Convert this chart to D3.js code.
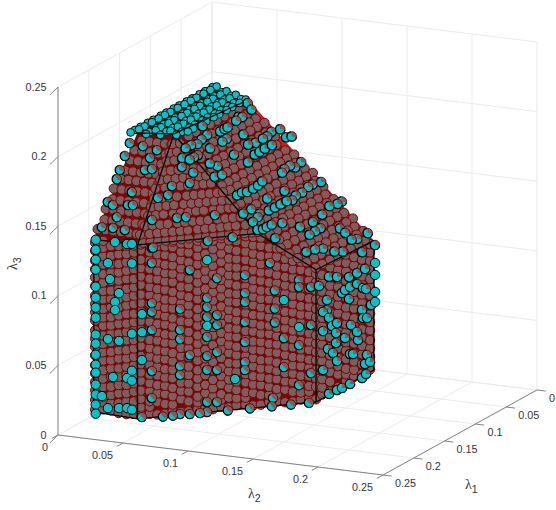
<!DOCTYPE html>
<html>
<head>
<meta charset="utf-8">
<style>
  body { margin: 0; background: #fff; }
  text { font-family: "Liberation Sans", Arial, sans-serif; font-size: 10.8px; fill: #333; }
  .sym { font-family: "Liberation Serif", serif; font-size: 14px; }
  .sub { font-family: "Liberation Sans", Arial, sans-serif; font-size: 10.5px; }
</style>
<script src="https://cdnjs.cloudflare.com/ajax/libs/d3/7.8.5/d3.min.js"></script>
</head>
<body>
<div id="scatter"></div>
<script>
var tickValues = [0, 0.05, 0.1, 0.15, 0.2, 0.25];
var tickLabels = ["0", "0.05", "0.1", "0.15", "0.2", "0.25"];

// polytope corners [lambda1, lambda2, lambda3]
var V1 = [.234, .020, .015], V2 = [.238, .0555, .015], V3 = [.1445, .1485, .015], V4 = [.0505, .1485, .015];
var A1 = [.234, .020, .139], A2 = [.238, .0555, .140], A3 = [.175, .118, .140];
var B3 = [.1445, .1485, .110], B4 = [.0505, .1485, .108];
var T1 = [.1865, .031, .205], T2 = [.178, .055, .205], T3 = [.074, .063, .205], T4 = [.0517, .0237, .205];

var outerHull = [V1, V2, V3, V4, B4, T3, T4, T1, A1];
var innerHull = [V1, V2, V3, [.055, .1485, .016], [.056, .1465, .108], [.080, .066, .2], T4, T1, A1];
var blackEdges = [[V1, V2], [V2, V3], [V3, V4], [V1, A1], [V2, A2], [V3, B3], [V4, B4], [A1, A2], [A2, A3], [A3, B3],
  [B3, B4], [A2, T2], [A3, T2], [T1, T2], [T2, T3]];

// interior points, seen through the red surface
var levelsA = [.017,.024,.031,.037,.043,.049,.056,.062,.068,.074,.081,.087,.093,.099,.106,.112,.118,.124,.131,.137];
var levelsB = [.018,.023,.027,.034,.040,.046,.053,.059,.065,.071,.078,.084,.090,.097,.103,.109,.115,.122,.128,.134,.139];
var levelsC = [.017,.026,.032,.038,.045,.051,.057,.063,.070,.076,.082,.089,.095,.101,.107,.114,.120,.126,.132,.138];
var levelsD = [.018,.023,.029,.035,.042,.048,.054,.060,.067,.073,.079,.085,.092,.098,.104,.111,.117,.123,.129,.136,.140];

// [lambda1, lambda2, levels, top]
var wallColumns = [
  [.235,.0215,levelsA,.139],[.2352,.0277,levelsB,.139],[.2355,.0338,levelsD,.139],[.236,.040,levelsA,.139],[.2365,.0462,levelsC,.139],[.2372,.0523,levelsB,.139],
  [.236,.057,levelsD,.140],[.232,.062,levelsB,.140],[.228,.066,levelsC,.140],[.224,.070,levelsA,.140],[.220,.074,levelsD,.140],[.215,.078,levelsC,.140],
  [.211,.082,levelsA,.140],[.207,.087,levelsB,.140],[.203,.091,levelsD,.140],[.199,.095,levelsC,.140],[.194,.099,levelsB,.140],[.190,.103,levelsA,.140],
  [.186,.107,levelsD,.140],[.182,.112,levelsB,.140],[.178,.116,levelsC,.140],[.174,.120,levelsA,.138],[.169,.124,levelsD,.134],[.165,.128,levelsB,.130],
  [.161,.1325,levelsC,.126],[.157,.1366,levelsA,.122],[.153,.1408,levelsD,.118],[.1485,.145,levelsB,.113],
  [.1445,.1485,levelsC,.110],[.1347,.1485,levelsD,.110],[.1218,.1485,levelsA,.110],[.1088,.1485,levelsC,.109],[.0958,.1485,levelsB,.109],[.0828,.1485,levelsD,.109],[.0698,.1485,levelsA,.108],[.0568,.1485,levelsC,.108]
];

// [lambda1, lambda3, lambda2 list]
var slopeLeftRows = [
  [.232,.146,[.022,.028,.034,.040,.046,.052,.057]],
  [.227,.152,[.025,.031,.037,.043,.049,.054]],
  [.221,.158,[.023,.029,.035,.041,.047,.053,.057]],
  [.216,.164,[.026,.032,.038,.044,.050,.056]],
  [.210,.170,[.024,.030,.036,.042,.048,.054]],
  [.205,.176,[.027,.033,.039,.045,.051,.056]],
  [.200,.181,[.028,.034,.040,.046,.052,.057]],
  [.194,.187,[.029,.035,.041,.047,.053]],
  [.189,.193,[.030,.036,.042,.048,.054]],
  [.184,.199,[.033,.039,.045,.051,.056]]
];

// [lambda3, lambda1 + lambda2, lambda2 list]
var slopeMidRows = [
  [.141,.2926,[.058,.062,.066,.070,.074,.078,.082,.087,.091,.095,.099,.103,.107,.111,.115,.118]],
  [.146,.2879,[.055,.060,.064,.068,.072,.076,.080,.085,.089,.093,.097,.101,.105,.110]],
  [.151,.2833,[.056,.060,.064,.068,.073,.077,.081,.085,.089,.094,.098,.102,.106]],
  [.157,.2777,[.056,.060,.064,.069,.073,.077,.081,.085,.090,.094,.098,.101]],
  [.162,.2730,[.056,.060,.064,.068,.073,.077,.081,.085,.089,.093,.097]],
  [.167,.2684,[.056,.060,.064,.068,.073,.077,.081,.085,.089,.092]],
  [.173,.2628,[.055,.060,.064,.068,.072,.076,.080,.084]],
  [.178,.2582,[.056,.060,.064,.068,.072,.076,.080]],
  [.183,.2535,[.056,.060,.064,.068,.072,.076]],
  [.189,.2479,[.056,.060,.064,.068]],
  [.194,.2433,[.056,.060,.064]],
  [.199,.2386,[.056,.060]]
];

var ridgeA = [.048,.060,.071,.083,.094,.106,.117,.129,.140,.152,.163,.174];
var ridgeB = [.054,.065,.077,.088,.100,.111,.123,.134,.146,.157,.169];
// [lambda2, lambda3, lambda1 list, lambda1 min, lambda1 max]
var slopeRightRows = [
  [.062,.202,ridgeB,.073,.177],[.066,.197,ridgeA,.072,.177],[.070,.193,ridgeB,.071,.177],[.074,.189,ridgeA,.069,.177],
  [.078,.184,ridgeB,.068,.177],[.082,.180,ridgeA,.067,.176],[.086,.176,ridgeB,.066,.176],[.090,.171,ridgeA,.064,.176],
  [.094,.167,ridgeB,.063,.176],[.098,.163,ridgeA,.062,.176],[.102,.158,ridgeB,.061,.175],[.106,.154,ridgeA,.060,.175],
  [.110,.150,ridgeB,.059,.175],[.114,.145,ridgeA,.058,.175],[.118,.141,ridgeB,.057,.175],[.122,.137,ridgeA,.056,.171],
  [.126,.132,ridgeB,.055,.167],[.130,.128,ridgeA,.054,.163],[.134,.123,ridgeB,.052,.159],[.138,.119,ridgeA,.051,.155],
  [.142,.115,ridgeB,.050,.151],[.146,.110,ridgeA,.049,.147]
];

// points poking out of the surface: [lambda1, lambda2, lambda3 list]
var cyanSilhouette = [
  [.2342,.0215,[.1389,.1317,.1246,.1174,.1052,.0973,.0901,.0829,.0707,.0642,.0563,.0491,.0434,.0348,.0276,.0204,.0139]],
  [.2355,.0315,[.1236,.069,.0194]],[.2355,.0331,[.1123]],[.2355,.040,[.103,.0686,.0204]],[.2355,.0369,[.0962,.0905,.1393]],
  [.2355,.0354,[.0422]],[.2355,.0462,[.0427,.0211,.139]],[.2355,.0269,[.0275]],[.2372,.0508,[.0755,.0489,.0417,.0209,.126,.14]],
  [.0487,.1485,[.0915,.0829,.0707,.0635]]
];
var cyanFrontFull = [[.2357,.0578,[.090,.077,.057]],[.2017,.0918,[.0771,.1245]],[.1871,.1064,[.0371]],[.1616,.1319,[.0905]],[.1537,.1398,[.0701]]];
var cyanFrontPart = [
  [.2357,.0578,[.0161]],[.2305,.063,[.1261,.0973,.0909,.0779,.0485,.0291,.137]],[.2158,.0777,[.0911,.0761,.0695,.0501,.0437,.0157]],
  [.2107,.0828,[.1185,.0574,.015]],[.2017,.0918,[.0972,.0907,.0835,.0692,.0555,.0455,.0225,.0153]],[.1965,.097,[.1108,.0843,.0771,.0577,.0448,.0218]],
  [.1819,.1116,[.1111,.0982,.0917,.0774,.063,.0486,.0429]],[.1673,.1262,[.0209]],[.1689,.1246,[.1181]],[.1663,.1272,[.098,.085,.075]],
  [.1616,.1319,[.0632,.0424]],[.1537,.1398,[.1039,.0989,.0572,.0284]],[.1475,.146,[.0981,.0708,.0363]],
  [.2247,.0688,[.015]],[.2195,.074,[.015]],[.2054,.0881,[.015]],[.1908,.1027,[.015]],[.1793,.1142,[.015]],[.1679,.1256,[.015]],[.1579,.1356,[.015]],[.1485,.145,[.015]]
];
var cyanRightPart = [
  [.1396,.1485,[.0972]],[.1266,.1485,[.0839,.0767]],[.1331,.1485,[.0769,.0632,.0352]],[.1234,.1485,[.0703,.0999,.0157]],[.125,.1485,[.0484]],
  [.1185,.1485,[.0633]],[.1169,.1485,[.0435]],[.112,.1485,[.0567,.0495]],[.1104,.1485,[.0634,.0965,.0361,.0153]],[.1023,.1485,[.083,.0148]],
  [.0974,.1485,[.0495,.084]],[.0909,.1485,[.0759,.0917]],[.0877,.1485,[.0565]],[.0893,.1485,[.0842,.036,.0145]],[.0844,.1485,[.0348]],
  [.0763,.1485,[.0429]],[.0779,.1485,[.0914,.0835,.0491]],[.0698,.1485,[.0629,.014]],[.0682,.1485,[.0783,.0567]],[.0649,.1485,[.0912,.0229]],
  [.0633,.1485,[.0764,.0153]],[.0617,.1485,[.0552,.0286]],[.0568,.1485,[.0224]],[.0552,.1485,[.0629]]
];

// [lambda1, lambda2, lambda3]
var cyanSlopeRight = [
  [.072,.0617,.202],[.073,.065,.198],[.094,.065,.198],[.090,.066,.197],[.101,.0665,.197],[.144,.061,.203],[.128,.067,.196],[.121,.067,.196],[.116,.067,.196],
  [.105,.074,.189],[.104,.079,.183],[.098,.080,.182],[.108,.079,.183],[.070,.079,.183],[.079,.080,.182],[.086,.080,.182],[.058,.080,.182],[.059,.085,.177],
  [.147,.066,.198],[.156,.066,.197],[.165,.067,.196],[.173,.066,.197],[.182,.066,.197],[.195,.0695,.1936],[.133,.080,.182],[.127,.0715,.191],[.135,.072,.191],
  [.155,.072,.191],[.124,.0865,.175],[.110,.085,.177],[.102,.085,.177],[.0925,.0845,.177],[.082,.085,.177],[.052,.086,.176],[.162,.081,.181],[.168,.078,.184],
  [.175,.072,.191],[.181,.072,.191],[.188,.072,.191],[.064,.099,.162],[.075,.0995,.161],[.079,.0975,.163],[.089,.098,.163],[.095,.099,.162],
  [.059,.112,.148],[.071,.111,.149],[.078,.111,.149],[.090,.112,.148],[.099,.1115,.148],[.108,.113,.147],[.121,.112,.148],[.053,.125,.134],[.060,.125,.134],
  [.071,.124,.135],[.087,.126,.133],[.104,.127,.132],[.123,.126,.133],[.100,.131,.127],[.109,.131,.127],[.108,.107,.153],[.078,.1355,.122],[.077,.139,.119],
  [.068,.144,.113],[.075,.143,.114],[.051,.144,.113],[.054,.151,.106],[.115,.140,.117],[.126,.139,.119],[.138,.138,.120],[.075,.151,.106],[.096,.146,.111],
  [.105,.144,.113],[.139,.120,.139],[.166,.098,.163],[.158,.098,.163],[.152,.099,.162],[.142,.099,.162],[.133,.0985,.162],[.125,.098,.163],[.143,.1115,.148],
  [.134,.112,.148],[.125,.112,.148],[.115,.112,.148],[.162,.107,.153],[.135,.1065,.154],[.175,.107,.153],[.157,.111,.149],[.162,.112,.148],[.172,.113,.147],
  [.208,.1145,.145],[.173,.117,.142],[.166,.118,.141],[.160,.118,.141],[.153,.1185,.141],[.161,.125,.134],[.119,.1315,.127],[.195,.078,.184],[.175,.085,.177],[.165,.086,.176]
];
var cyanSlopeLeft = [
  [.1854,.0247,.1968],[.1924,.0242,.1892],[.200,.0239,.1809],[.2049,.0239,.1756],[.2174,.0229,.1621],[.2187,.0274,.1607],[.2309,.0247,.1475],
  [.1861,.0351,.196],[.1918,.0432,.1898],[.1873,.0464,.1947],[.1984,.0424,.1827],[.1974,.0474,.1837],[.2107,.0382,.1693],[.2177,.0385,.1618],
  [.2174,.0422,.1621],[.2247,.0333,.1542],[.2306,.0331,.1478],[.2309,.0424,.1475],
  [.2101,.058,.1673],[.2041,.0629,.1685],[.2214,.0588,.1543],[.2085,.0719,.1541],[.2038,.0766,.1541],[.1988,.0634,.1737],[.1889,.0725,.1745],
  [.1867,.0653,.1846],[.2023,.0927,.1384],[.189,.0918,.1537],[.2299,.0636,.137]
];

// flat top: [lambda2, lambda3, lambda1 list]
var topRows = [
  [.026,.205,[.054,.066,.075,.087,.096,.108,.117,.129,.138,.150,.159,.171,.180,.187]],
  [.031,.207,[.058,.068,.079,.091,.100,.110,.121,.133,.142,.152,.163,.175,.184]],
  [.036,.204,[.060,.072,.081,.093,.102,.112,.123,.135,.144,.154,.165,.177,.183]],
  [.041,.206,[.063,.073,.085,.094,.106,.115,.127,.136,.148,.157,.169,.178]],
  [.046,.204,[.066,.077,.087,.098,.108,.119,.129,.140,.150,.161,.171,.181]],
  [.051,.206,[.069,.079,.091,.100,.112,.121,.133,.142,.154,.163,.175]],
  [.056,.204,[.071,.083,.092,.104,.113,.125,.134,.146,.155,.167,.176]],
  [.061,.205,[.074,.084,.096,.105,.117,.126,.138,.147,.159,.168]]
];

function makeChart() {
  var svgWidth = 556, svgHeight = 510;
  var radius = 4.7;

  var svg = d3.select("#scatter").append("svg")
    .attr("width", svgWidth)
    .attr("height", svgHeight);

  // the view is a fixed oblique projection, one scale per screen contribution
  var domain = [0, 0.25];
  var xOfL1 = d3.scaleLinear().domain(domain).range([212, 58]);
  var xOfL2 = d3.scaleLinear().domain(domain).range([0, 325]);
  var yOfL1 = d3.scaleLinear().domain(domain).range([350, 435]);
  var yOfL2 = d3.scaleLinear().domain(domain).range([0, 40]);
  var yOfL3 = d3.scaleLinear().domain(domain).range([0, -348]);

  function px(p) { return xOfL1(p[0]) + xOfL2(p[1]); }
  function py(p) { return yOfL1(p[0]) + yOfL2(p[1]) + yOfL3(p[2]); }
  var line3 = d3.line().x(px).y(py);

  // grid
  var gridGroup = svg.append("g").attr("stroke", "#ebebeb").attr("fill", "none");
  var gridSegments = [];
  tickValues.forEach(function(t) {
    gridSegments.push([[t, 0, 0], [t, .25, 0]]);
    gridSegments.push([[0, t, 0], [.25, t, 0]]);
    gridSegments.push([[0, t, 0], [0, t, .25]]);
    gridSegments.push([[t, 0, 0], [t, 0, .25]]);
    gridSegments.push([[0, 0, t], [0, .25, t]]);
    gridSegments.push([[0, 0, t], [.25, 0, t]]);
  });
  gridGroup.selectAll("path").data(gridSegments).enter().append("path").attr("d", line3);

  // axes
  var axisGroup = svg.append("g").attr("stroke", "#828282").attr("fill", "none");
  var axisSegments = [
    [[.25, 0, 0], [.25, .25, 0]],
    [[.25, .25, 0], [0, .25, 0]],
    [[.25, 0, 0], [.25, 0, .25]]
  ];
  tickValues.forEach(function(t) {
    axisSegments.push([[.25, t, 0], [.26, t, 0]]);
    axisSegments.push([[t, .25, 0], [t, .2567, 0]]);
    axisSegments.push([[.25, 0, t], [.263, 0, t - .0025]]);
  });
  axisGroup.selectAll("path").data(axisSegments).enter().append("path").attr("d", line3);

  var labelGroup = svg.append("g");
  tickValues.forEach(function(t, i) {
    labelGroup.append("text").attr("text-anchor", "end")
      .attr("x", px([.25, t, 0]) - 10).attr("y", py([.25, t, 0]) + 16).text(tickLabels[i]);
    labelGroup.append("text").attr("text-anchor", "start")
      .attr("x", px([t, .25, 0]) + 12).attr("y", py([t, .25, 0]) + 12).text(tickLabels[i]);
    labelGroup.append("text").attr("text-anchor", "end")
      .attr("x", 46.5).attr("y", py([.25, 0, t]) + 3.5).text(tickLabels[i]);
  });

  var lab1 = labelGroup.append("text").attr("x", 465).attr("y", 489);
  lab1.append("tspan").attr("class", "sym").text("λ");
  lab1.append("tspan").attr("class", "sub").attr("dy", 4).text("1");
  var lab2 = labelGroup.append("text").attr("x", 248).attr("y", 498);
  lab2.append("tspan").attr("class", "sym").text("λ");
  lab2.append("tspan").attr("class", "sub").attr("dy", 4).text("2");
  var lab3 = labelGroup.append("text").attr("transform", "translate(17,270) rotate(-90)");
  lab3.append("tspan").attr("class", "sym").text("λ");
  lab3.append("tspan").attr("class", "sub").attr("dy", 4).text("3");

  // solid
  svg.append("path").attr("d", line3(outerHull) + "Z").attr("fill", "#e5141a");
  svg.append("path").attr("d", line3(innerHull) + "Z").attr("fill", "#7e0404");

  // flatten the data tables into points
  var inner = [];
  wallColumns.forEach(function(c) {
    c[2].filter(function(z) { return z <= c[3]; }).forEach(function(z) { inner.push([c[0], c[1], z]); });
  });
  slopeLeftRows.forEach(function(r) {
    r[2].forEach(function(l2) { inner.push([r[0], l2, r[1]]); });
  });
  slopeRightRows.forEach(function(r) {
    r[2].filter(function(l1) { return l1 >= r[3] && l1 <= r[4]; }).forEach(function(l1) { inner.push([l1, r[0], r[1]]); });
  });
  slopeMidRows.forEach(function(r) {
    r[2].forEach(function(l2) { inner.push([r[1] - l2, l2, r[0]]); });
  });

  function columnsToPoints(cols) {
    var pts = [];
    cols.forEach(function(c) { c[2].forEach(function(z) { pts.push([c[0], c[1], z]); }); });
    return pts;
  }
  var topPoints = [];
  topRows.forEach(function(r) {
    r[2].forEach(function(l1) { topPoints.push([l1, r[0], r[1]]); });
  });

  function drawDiscs(points, fill, stroke, r) {
    svg.append("g").selectAll("circle").data(points).enter().append("circle")
      .attr("cx", px).attr("cy", py).attr("r", r)
      .attr("fill", fill).attr("stroke", stroke).attr("stroke-width", 1);
  }

  // disc that only partly leaves the surface: cyan on the lower left side
  function drawPartial(points, span) {
    var mid = Math.PI * 1.25;
    var a0 = mid - span / 2, a1 = mid + span / 2;
    var fillArc = d3.arc().innerRadius(0).outerRadius(radius).startAngle(a0).endAngle(a1);
    var rimArc = d3.arc().innerRadius(radius).outerRadius(radius).startAngle(a0).endAngle(a1);
    var g = svg.append("g").selectAll("g").data(points).enter().append("g")
      .attr("transform", function(d) { return "translate(" + px(d) + "," + py(d) + ")"; });
    g.append("circle").attr("r", radius).attr("fill", "#7d5e5e").attr("stroke", "#7f0000");
    g.append("path").attr("d", fillArc()).attr("fill", "#00c4c8");
    g.append("path").attr("d", rimArc()).attr("fill", "none").attr("stroke", "#000").attr("stroke-width", 1.2);
  }

  drawDiscs(inner, "#7d5e5e", "#7f0000", radius);

  svg.append("g").attr("stroke", "#000").attr("stroke-width", 1.3).attr("fill", "none")
    .selectAll("path").data(blackEdges).enter().append("path").attr("d", line3);

  drawDiscs(topPoints, "#00c4c8", "#000", 3.9);
  svg.append("path").attr("d", line3([T1, T2, T3])).attr("fill", "none").attr("stroke", "#000").attr("stroke-width", 1.3);
  drawPartial(columnsToPoints(cyanFrontPart), Math.PI * 1.05);
  drawPartial(columnsToPoints(cyanRightPart), Math.PI * 1.5);
  drawPartial(cyanSlopeRight, Math.PI * 1.4);
  drawPartial(cyanSlopeLeft, Math.PI * 1.2);
  drawDiscs(columnsToPoints(cyanFrontFull), "#00c4c8", "#000", radius);
  drawDiscs(columnsToPoints(cyanSilhouette), "#00c4c8", "#000", radius);
}

makeChart();
</script>
</body>
</html>
